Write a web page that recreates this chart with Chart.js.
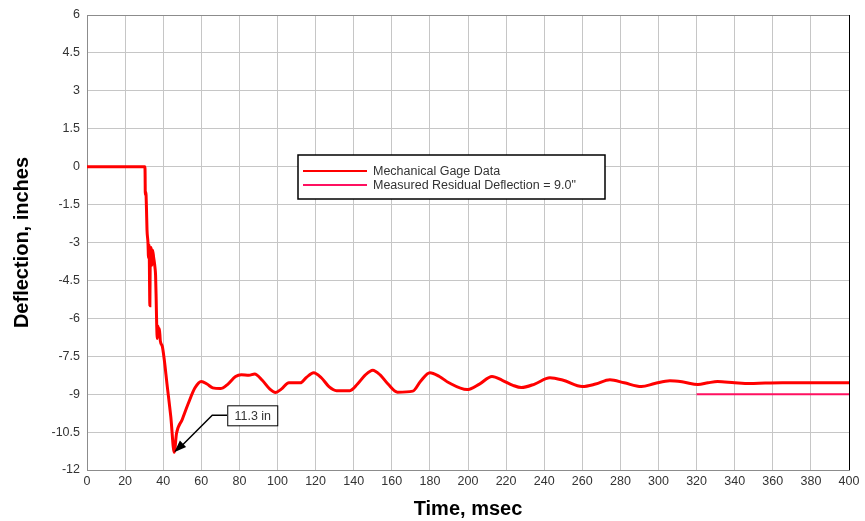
<!DOCTYPE html>
<html>
<head>
<meta charset="utf-8">
<script src="https://cdn.jsdelivr.net/npm/chart.js@4.4.1/dist/chart.umd.min.js"></script>
<style>
  html, body { margin: 0; padding: 0; background: #fff; }
  #wrap { width: 865px; height: 521px; position: relative; }
</style>
</head>
<body>
<div id="wrap"><canvas id="deflChart"></canvas></div>
<script>
// gage trace, time in msec and deflection in inches
const gageTime = [0, 30.4, 30.5, 30.6, 30.9, 31.2, 31.5, 32.0, 32.3, 32.6, 33.0, 33.2, 33.6, 34.0, 34.4,
    35.0, 35.7, 36.0, 36.3, 36.6, 36.9, 37.3, 37.7, 38.0, 38.5, 39.5, 40.5, 42, 44, 45.8, 47, 50, 53,
    56.7, 60, 63, 66, 70, 74, 78, 81, 85, 88, 92, 96, 99, 102, 106, 112, 115, 119, 123, 127, 131, 138,
    142, 146, 150, 154, 158, 163, 171, 175, 180, 185, 190, 199.5, 206, 212.6, 218, 223.6, 228, 235,
    243, 250, 260, 267, 274.5, 282, 291, 298, 306, 313, 320.7, 326, 331, 340, 348, 356, 365, 380, 400];
const gageDefl = [0, 0, -0.3, -1.1, -1.0, -1.6, -2.5, -3.0, -3.6, -3.1, -5.5, -3.6, -3.2, -3.9, -3.3,
    -3.6, -4.0, -4.3, -5.2, -6.3, -6.8, -6.3, -6.7, -6.4, -6.9, -7.1, -7.6, -8.6, -9.9, -11.3, -10.55, -10.0, -9.4,
    -8.75, -8.5, -8.6, -8.75, -8.78, -8.6, -8.3, -8.23, -8.25, -8.2, -8.45, -8.8, -8.93, -8.8, -8.55, -8.55, -8.35, -8.15, -8.35, -8.7, -8.86, -8.86,
    -8.6, -8.25, -8.05, -8.25, -8.6, -8.92, -8.88, -8.5, -8.15, -8.3, -8.55, -8.82, -8.6, -8.3, -8.45, -8.65, -8.74, -8.6,
    -8.35, -8.45, -8.7, -8.6, -8.43, -8.55, -8.7, -8.58, -8.47, -8.52, -8.62, -8.55, -8.5, -8.55, -8.58, -8.56, -8.55, -8.55, -8.55];

// measured residual deflection
const residualTime = [320, 400];
const residualDefl = [-9.0, -9.0];

const xTicks = { min: 0, max: 400, step: 20 };
const yTicks = { min: -12, max: 6, step: 1.5 };

const seriesLabels = ['Mechanical Gage Data', 'Measured Residual Deflection = 9.0"'];
const seriesColors = ['#ff0000', '#ff1060'];

const fontFamily = '"Liberation Sans", Arial, sans-serif';
const tickColor = '#333333';
const gridColor = '#c6c6c6';

function toPoints(xs, ys) {
    return xs.map((x, i) => ({ x: x, y: ys[i] }));
}

// frame on top and right side of plot
const framePlugin = {
    id: 'frame',
    afterDraw(chart) {
        const a = chart.chartArea;
        const ctx = chart.ctx;
        ctx.save();
        ctx.lineWidth = 1;
        ctx.strokeStyle = '#8c8c8c';
        ctx.beginPath();
        ctx.moveTo(a.left, a.top + 0.5);
        ctx.lineTo(a.right, a.top + 0.5);
        ctx.stroke();
        ctx.strokeStyle = '#000';
        ctx.beginPath();
        ctx.moveTo(a.right + 0.5, a.top);
        ctx.lineTo(a.right + 0.5, a.bottom);
        ctx.stroke();
        ctx.restore();
    }
};

// boxed legend inside the plot
const boxLegendPlugin = {
    id: 'boxLegend',
    afterDraw(chart) {
        const ctx = chart.ctx;
        const bx = 298, by = 155, bw = 307, bh = 44;
        ctx.save();
        ctx.fillStyle = '#fff';
        ctx.fillRect(bx, by, bw, bh);
        ctx.lineWidth = 1.5;
        ctx.strokeStyle = '#000';
        ctx.strokeRect(bx, by, bw, bh);
        ctx.font = '12.5px ' + fontFamily;
        ctx.textBaseline = 'middle';
        chart.data.datasets.forEach((ds, i) => {
            const ly = by + 16 + i * 14;
            ctx.strokeStyle = ds.borderColor;
            ctx.lineWidth = 2;
            ctx.beginPath();
            ctx.moveTo(bx + 5, ly);
            ctx.lineTo(bx + 69, ly);
            ctx.stroke();
            ctx.fillStyle = tickColor;
            ctx.fillText(ds.label, bx + 75, ly + 1);
        });
        ctx.restore();
    }
};

// callout on the peak deflection
const peakCalloutPlugin = {
    id: 'peakCallout',
    afterDraw(chart) {
        let k = 0;
        gageDefl.forEach((v, i) => { if (v < gageDefl[k]) k = i; });
        const xs = chart.scales.x, ys = chart.scales.y;
        const tx = xs.getPixelForValue(gageTime[k]);
        const ty = ys.getPixelForValue(gageDefl[k]);
        const ctx = chart.ctx;
        const boxL = tx + 53, boxW = 50, boxH = 20, midY = ty - 37;
        const elbowX = tx + 38;
        ctx.save();
        ctx.strokeStyle = '#000';
        ctx.fillStyle = '#000';
        ctx.lineWidth = 1.5;
        ctx.beginPath();
        ctx.moveTo(boxL, midY);
        ctx.lineTo(elbowX, midY);
        ctx.lineTo(tx + 6, ty - 5);
        ctx.stroke();
        // arrow head
        const ang = Math.atan2(ty - midY, tx - elbowX);
        const len = 13, half = 0.35;
        ctx.beginPath();
        ctx.moveTo(tx, ty);
        ctx.lineTo(tx - len * Math.cos(ang - half), ty - len * Math.sin(ang - half));
        ctx.lineTo(tx - len * Math.cos(ang + half), ty - len * Math.sin(ang + half));
        ctx.closePath();
        ctx.fill();
        ctx.fillStyle = '#fff';
        ctx.fillRect(boxL, midY - boxH / 2, boxW, boxH);
        ctx.lineWidth = 1;
        ctx.strokeRect(boxL + 0.5, midY - boxH / 2 + 0.5, boxW, boxH);
        ctx.fillStyle = tickColor;
        ctx.font = '12.5px ' + fontFamily;
        ctx.textAlign = 'center';
        ctx.textBaseline = 'middle';
        ctx.fillText(Math.abs(gageDefl[k]).toFixed(1) + ' in', boxL + boxW / 2 + 0.5, midY + 1);
        ctx.restore();
    }
};

const ctx = document.getElementById('deflChart').getContext('2d');
new Chart(ctx, {
    type: 'scatter',
    data: {
        datasets: [{
            label: seriesLabels[0],
            data: toPoints(gageTime, gageDefl),
            showLine: true,
            borderColor: seriesColors[0],
            backgroundColor: seriesColors[0],
            borderWidth: 3,
            pointRadius: 0,
            cubicInterpolationMode: 'monotone'
        }, {
            label: seriesLabels[1],
            data: toPoints(residualTime, residualDefl),
            showLine: true,
            borderColor: seriesColors[1],
            backgroundColor: seriesColors[1],
            borderWidth: 2,
            pointRadius: 0
        }]
    },
    options: {
        responsive: true,
        maintainAspectRatio: false,
        animation: false,
        layout: { padding: { top: 15, right: 16, left: 0, bottom: 0 } },
        plugins: {
            legend: { display: false },
            tooltip: { enabled: false }
        },
        scales: {
            x: {
                type: 'linear',
                min: xTicks.min,
                max: xTicks.max,
                afterFit(scale) { scale.height = 51; },
                ticks: {
                    stepSize: xTicks.step,
                    color: tickColor,
                    font: { family: fontFamily, size: 12.5 },
                    padding: 4,
                    maxRotation: 0,
                    autoSkip: false
                },
                grid: { color: gridColor, drawTicks: false },
                border: { color: '#8c8c8c', width: 1 },
                title: {
                    display: true,
                    text: 'Time, msec',
                    color: '#000',
                    font: { family: fontFamily, size: 20, weight: 'bold' },
                    padding: { top: 0, bottom: 0 }
                }
            },
            y: {
                type: 'linear',
                min: yTicks.min,
                max: yTicks.max,
                afterFit(scale) { scale.width = 87; },
                ticks: {
                    stepSize: yTicks.step,
                    color: tickColor,
                    font: { family: fontFamily, size: 12.5 },
                    padding: 7,
                    autoSkip: false,
                    callback: v => String(Math.round(v * 10) / 10)
                },
                grid: { color: gridColor, drawTicks: false },
                border: { color: '#8c8c8c', width: 1 },
                title: {
                    display: true,
                    text: 'Deflection, inches',
                    color: '#000',
                    font: { family: fontFamily, size: 20, weight: 'bold' },
                    padding: { top: 10, bottom: 0 }
                }
            }
        }
    },
    plugins: [framePlugin, boxLegendPlugin, peakCalloutPlugin]
});
</script>
</body>
</html>
